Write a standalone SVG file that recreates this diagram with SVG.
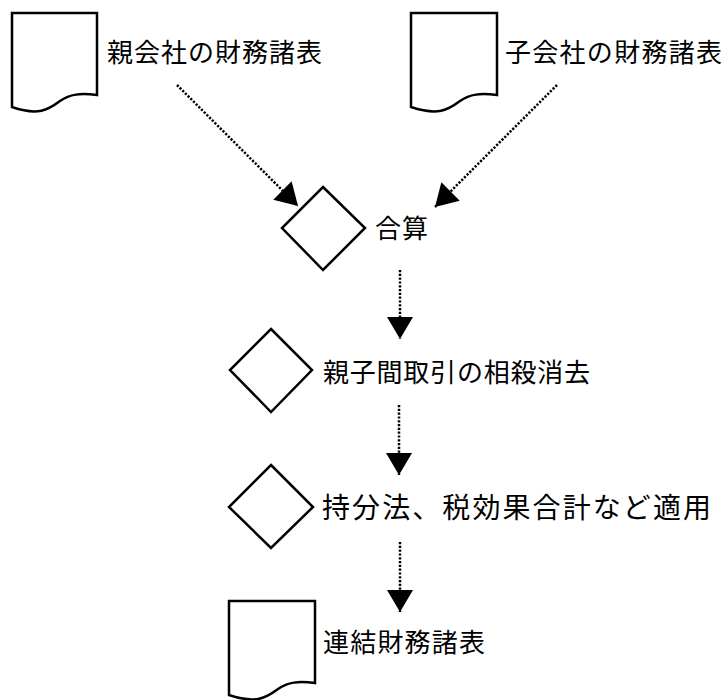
<svg xmlns="http://www.w3.org/2000/svg" width="728" height="700" viewBox="0 0 728 700">
  <style>
    .shape { fill: #ffffff; stroke: #000000; stroke-width: 2.5; stroke-linejoin: miter; }
    .label { font-family: "Noto Sans CJK JP", "Noto Sans", sans-serif; font-size: 26px; fill: #000000; }
    .flow { fill: none; stroke: #000000; stroke-width: 2.5; stroke-dasharray: 2.2 1.6; }
  </style>
  <defs>
    <marker id="arrow" viewBox="0 0 22 26" refX="22" refY="13" markerWidth="22" markerHeight="26" markerUnits="userSpaceOnUse" orient="auto">
      <path d="M0,0 L22,13 L0,26 Z" fill="#000000"/>
    </marker>
  </defs>
  <rect width="728" height="700" fill="#ffffff"/>

  <g id="doc-parent">
    <path class="shape" d="M12,13 H97 V95 C80,93 70,94 60,101 C48,110 38,116 12,107 Z"/>
    <text class="label" x="107" y="62" textLength="215" lengthAdjust="spacing">親会社の財務諸表</text>
  </g>

  <g id="doc-child">
    <path class="shape" d="M411,13 H497 V95 C480,93 470,94 460,101 C448,110 438,116 411,107 Z"/>
    <text class="label" x="505" y="62" textLength="217" lengthAdjust="spacing">子会社の財務諸表</text>
  </g>

  <g id="step-sum">
    <path class="shape" d="M323,187 L365,228 L323,270 L282,228 Z"/>
    <text class="label" x="375" y="238" textLength="53" lengthAdjust="spacing">合算</text>
  </g>

  <g id="step-elim">
    <path class="shape" d="M271,329 L312,370 L271,412 L230,370 Z"/>
    <text class="label" x="323" y="382" textLength="267" lengthAdjust="spacing">親子間取引の相殺消去</text>
  </g>

  <g id="step-apply">
    <path class="shape" d="M271,465 L313,507 L271,548 L229,507 Z"/>
    <text class="label" x="322" y="518" style="font-size:28px" textLength="389" lengthAdjust="spacing">持分法、税効果合計など適用</text>
  </g>

  <g id="doc-consolidated">
    <path class="shape" d="M229,601 H315 V683 C298,681 288,682 278,689 C266,698 256,704 229,695 Z"/>
    <text class="label" x="323" y="652" textLength="162" lengthAdjust="spacing">連結財務諸表</text>
  </g>

  <g id="connectors">
    <path class="flow" d="M177,85 L298,206" marker-end="url(#arrow)"/>
    <path class="flow" d="M557,85 L435,207" marker-end="url(#arrow)"/>
    <path class="flow" d="M400,270 L400,339" marker-end="url(#arrow)"/>
    <path class="flow" d="M399,405 L399,475" marker-end="url(#arrow)"/>
    <path class="flow" d="M400,542 L400,612" marker-end="url(#arrow)"/>
  </g>
</svg>
